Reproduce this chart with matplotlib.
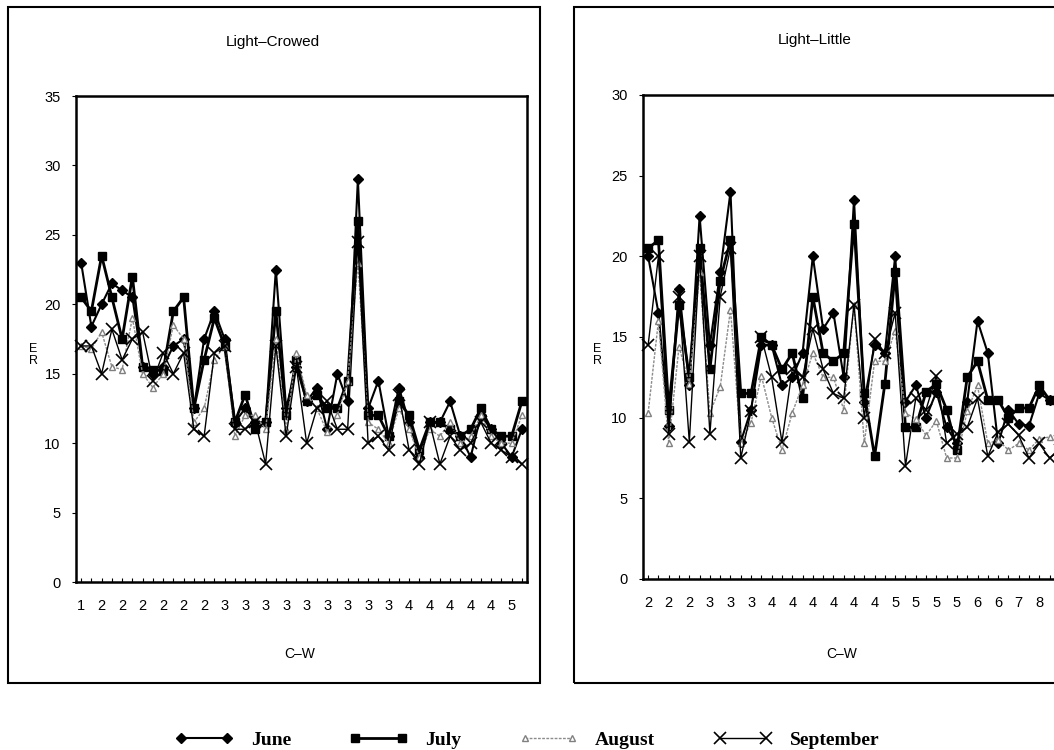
import numpy as np
import matplotlib
matplotlib.use('Agg')
from matplotlib import pyplot as plt
from matplotlib.patches import Rectangle
from matplotlib.lines import Line2D

# ---- Light-Crowed (left panel)
left_labels = ['1', '2', '2', '2', '2', '2', '2', '3', '3', '3', '3',
               '3', '3', '3', '3', '3', '4', '4', '4', '4', '4', '5']
left_june = [23, 18.4, 20, 21.5, 21, 20.5, 15.5, 15, 15.5, 17, 17.5, 12.5,
             17.5, 19.5, 17.5, 11.5, 12.5, 11.5, 11.5, 22.5, 12.5, 15.5, 13,
             14, 11, 15, 13, 29, 12.5, 14.5, 10.5, 14, 11.5, 9, 11.5, 11.5,
             13, 10.5, 9, 12, 11, 10, 9, 11]
left_july = [20.5, 19.5, 23.5, 20.5, 17.5, 22, 15.5, 15.3, 15.2, 19.5, 20.5,
             12.5, 16, 19, 17, 11.5, 13.5, 11, 11.5, 19.5, 12, 16, 13, 13.5,
             12.5, 12.5, 14.5, 26, 12, 12, 10.5, 13, 12, 9.5, 11.5, 11.5, 11,
             10.5, 11, 12.5, 11, 10.5, 10.5, 13]
left_aug = [17, 16.8, 18, 15.5, 15.3, 19, 15, 14, 15, 18.5, 17.5, 11.5, 12.5,
            16, 17, 10.5, 12, 12, 11, 17.5, 11, 16.5, 13.5, 12.5, 10.8, 12,
            14.5, 23, 11.5, 11, 10, 12.5, 11, 9, 11, 10.5, 11.5, 10, 10.5, 12,
            10.5, 10, 10, 12]
left_sep = [17, 17, 15, 18.2, 16, 17.5, 18, 14.5, 16.5, 15, 16.5, 11, 10.5,
            16.5, 17, 11, 11, 11.5, 8.5, 17, 10.5, 15.5, 10, 12.5, 13, 11, 11,
            24.5, 10, 10.5, 9.5, 13.5, 9.5, 8.5, 11.5, 8.5, 10.5, 9.5, 10, 11.5,
            10, 9.5, 9, 8.5]

# ---- Light-Little (right panel, cut at the right edge)
right_labels = ['2', '2', '2', '3', '3', '3', '4', '4', '4', '4', '4', '4',
                '5', '5', '5', '5', '6', '6', '7', '8']
right_june = [20, 16.5, 9.5, 18, 12, 22.5, 14.5, 19, 24, 8.5, 10.5, 14.5,
              14.5, 12, 12.5, 14, 20, 15.5, 16.5, 12.5, 23.5, 11, 14.5, 14,
              20, 11, 12, 10, 11.6, 9.4, 8.4, 11, 16, 14, 8.4, 10.5, 9.6, 9.5,
              11.5, 11.1, 11]
right_july = [20.5, 21, 10.5, 17, 12.5, 20.5, 13, 18.5, 21, 11.5, 11.5, 15,
              14.5, 13, 14, 11.2, 17.5, 14, 13.5, 14, 22, 11.5, 7.6, 12.1, 19,
              9.4, 9.4, 11.6, 12.1, 10.5, 8, 12.5, 13.5, 11.1, 11.1, 10, 10.6,
              10.6, 12, 11.1, 11]
right_aug = [10.3, 16, 8.4, 14.4, 12.1, 19, 10.3, 11.9, 16.7, 8.4, 9.7, 12.6,
             10, 8, 10.3, 12, 14, 12.5, 12.5, 10.5, 17, 8.4, 13.5, 13.5, 15.4,
             10.3, 9.9, 8.9, 9.8, 7.5, 7.5, 10.4, 12, 8.4, 8.6, 8, 8.4, 8, 8.7,
             8.8, 9]
right_sep = [14.5, 20, 9, 17.5, 8.5, 20, 9, 17.5, 20.5, 7.5, 10.4, 15, 12.5,
             8.5, 13, 12.5, 15.5, 13, 11.5, 11.2, 17, 10, 14.9, 14, 16.5, 7,
             11.2, 10.5, 12.6, 8.4, 9, 9.4, 11.2, 7.6, 9.1, 9.6, 8.9, 7.5, 8.4,
             7.5, 8]

months = ['June', 'July', 'August', 'September']

W, H = 1054, 750
fig = plt.figure(figsize=(W / 100, H / 100), dpi=100)
plt.rcParams['font.family'] = ['Liberation Sans', 'DejaVu Sans']

styles = [dict(color='k', lw=1.5, marker='D', ms=5, mfc='k', mec='k'),
          dict(color='k', lw=2.0, marker='s', ms=5.5, mfc='k', mec='k'),
          dict(color='0.55', lw=1.0, ls=(0, (2, 1)), marker='^', ms=4.5,
               mfc='white', mec='0.5'),
          dict(color='k', lw=1.0, marker='x', ms=8.5, mew=1.2)]


def px(x0, y0, x1, y1):
    # pixel box (top-left origin) -> figure fraction rect
    return [x0 / W, 1 - y1 / H, (x1 - x0) / W, (y1 - y0) / H]


def panel(frame, box, series, labels, ymax, title, title_xy, ylab_x, cw_x):
    fig.add_artist(Rectangle((frame[0] / W, 1 - frame[3] / H),
                             (frame[2] - frame[0]) / W,
                             (frame[3] - frame[1]) / H,
                             transform=fig.transFigure, fill=False,
                             ec='k', lw=1.5))
    ax = fig.add_axes(px(*box))
    n = len(series[0])
    x = np.arange(n)
    for vals, st in zip(series, styles):
        ax.plot(x, vals, clip_on=False, **st)
    ax.set_ylim(0, ymax)
    ax.set_yticks(np.arange(0, ymax + 1, 5))
    ax.set_xlim(-0.5, n - 0.5)
    ax.set_xticks(np.arange(0, n))
    ax.set_xticklabels([labels[i // 2] if i % 2 == 0 and i // 2 < len(labels)
                        else '' for i in range(n)])
    ax.tick_params(axis='x', direction='in', length=3, pad=12, labelsize=10.5)
    ax.tick_params(axis='y', direction='out', length=3, pad=8, labelsize=10.5)
    for s in ax.spines.values():
        s.set_linewidth(1.8)
    fig.text(title_xy[0] / W, 1 - title_xy[1] / H, title, ha='center',
             va='center', fontsize=11)
    fig.text(ylab_x / W, 1 - 355 / H, 'E\nR', ha='center', va='center',
             fontsize=9, linespacing=1.0)
    fig.text(cw_x / W, 1 - 654 / H, 'C\u2013W', ha='center', va='center',
             fontsize=10)
    return ax


panel((8, 7, 540, 683), (76, 96, 527, 582),
      [left_june, left_july, left_aug, left_sep], left_labels, 35,
      'Light\u2013Crowed', (273, 42), 33, 300)
panel((574, 7, 1070, 683), (643, 95, 1065, 579),
      [right_june, right_july, right_aug, right_sep], right_labels, 30,
      'Light\u2013Little', (815, 40), 597, 842)

# Legend along the bottom
handles = [Line2D([], [], **st) for st in styles]
fig.legend(handles, months, loc='center', bbox_to_anchor=(0.5, 1 - 740 / H),
           ncol=4, frameon=False, handlelength=3.0, numpoints=2,
           columnspacing=3.0, handletextpad=0.9,
           prop=dict(family='Liberation Serif', weight='bold', size=14))

plt.savefig('out.png', dpi=100)
print('Saved: out.png')
